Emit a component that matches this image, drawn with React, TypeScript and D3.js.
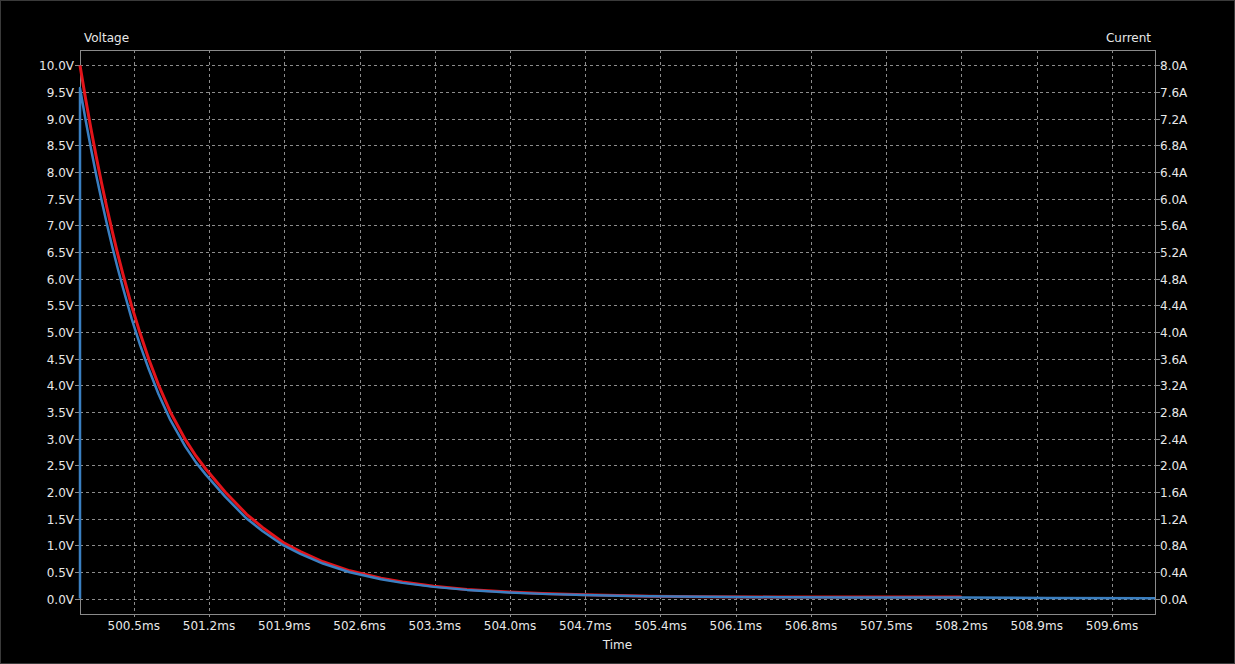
import React from "react";
import * as d3 from "d3";

// time offsets in ms from 500 ms
const redTimes = [0, 0.05, 0.1, 0.15, 0.2, 0.25, 0.3, 0.35, 0.4, 0.48, 0.56, 0.64, 0.73, 0.84, 0.98, 1.08, 1.17, 1.35, 1.55, 1.7, 1.89, 2.05, 2.26, 2.51, 2.8, 3.0, 3.29, 3.6, 3.99, 4.3, 4.69, 5.0, 5.3, 5.8, 6.5, 7.2, 8.2];
const voltage = [10.0, 9.4, 8.83, 8.3, 7.8, 7.33, 6.89, 6.47, 6.08, 5.49, 4.97, 4.49, 4.01, 3.5, 2.98, 2.67, 2.43, 2.0, 1.58, 1.33, 1.05, 0.88, 0.69, 0.52, 0.38, 0.31, 0.23, 0.17, 0.123, 0.094, 0.07, 0.055, 0.045, 0.035, 0.03, 0.028, 0.027];

const blueTimes = [0, 0, 0.05, 0.1, 0.15, 0.2, 0.25, 0.3, 0.35, 0.4, 0.48, 0.56, 0.64, 0.73, 0.84, 0.98, 1.08, 1.17, 1.35, 1.55, 1.7, 1.89, 2.05, 2.26, 2.51, 2.8, 3.0, 3.29, 3.6, 3.99, 4.3, 4.69, 5.0, 5.3, 5.8, 6.5, 7.2, 8.2, 9.0, 10.0];
const current = [0, 7.66, 7.2, 6.77, 6.36, 5.98, 5.62, 5.28, 4.96, 4.66, 4.2, 3.8, 3.44, 3.07, 2.68, 2.28, 2.04, 1.86, 1.53, 1.2, 1.01, 0.8, 0.67, 0.525, 0.395, 0.29, 0.235, 0.175, 0.13, 0.092, 0.07, 0.052, 0.042, 0.034, 0.026, 0.02, 0.017, 0.014, 0.008, 0.006];

const timeTicks = [500.5, 501.2, 501.9, 502.6, 503.3, 504.0, 504.7, 505.4, 506.1, 506.8, 507.5, 508.2, 508.9, 509.6];
const voltTicks = [0, 0.5, 1, 1.5, 2, 2.5, 3, 3.5, 4, 4.5, 5, 5.5, 6, 6.5, 7, 7.5, 8, 8.5, 9, 9.5, 10];
const ampTicks = [0, 0.4, 0.8, 1.2, 1.6, 2.0, 2.4, 2.8, 3.2, 3.6, 4.0, 4.4, 4.8, 5.2, 5.6, 6.0, 6.4, 6.8, 7.2, 7.6, 8.0];

const W = 1235;
const H = 664;
const margin = { top: 50, right: 80, bottom: 50, left: 80 };
const font = "'DejaVu Sans', sans-serif";
const txt = "#e8e8e8";
const axisCol = "#8a8a8a";
const gridCol = "#8c8c8c";

export default function App() {
  const x = d3.scaleLinear().domain([500, 510]).range([margin.left, W - margin.right]);
  const yV = d3.scaleLinear().domain([-0.29, 10.29]).range([H - margin.bottom, margin.top]);
  const yA = d3.scaleLinear().domain([-0.232, 8.232]).range([H - margin.bottom, margin.top]);

  const redLine = d3
    .line<number>()
    .x((_, i) => x(500 + redTimes[i]))
    .y((d) => yV(d));
  const blueLine = d3
    .line<number>()
    .x((_, i) => x(500 + blueTimes[i]))
    .y((d) => yA(d));

  const x0 = margin.left;
  const x1 = W - margin.right;
  const y0 = margin.top;
  const y1 = H - margin.bottom;

  return (
    <svg
      width={W}
      height={H}
      style={{ position: "absolute", left: 0, top: 0, background: "#000" }}
      fontFamily={font}
      fontSize={12}
    >
      <rect x={0.5} y={0.5} width={W - 1} height={H - 1} fill="#000" stroke="#3a3a3a" />

      {/* grid */}
      <g stroke={gridCol} strokeDasharray="3,3" strokeWidth={1}>
        {timeTicks.map((t) => (
          <line key={"gx" + t} x1={Math.round(x(t)) + 0.5} x2={Math.round(x(t)) + 0.5} y1={y0} y2={y1 + 5} />
        ))}
        {voltTicks.map((v) => (
          <line key={"gy" + v} x1={x0} x2={x1} y1={Math.round(yV(v)) + 0.5} y2={Math.round(yV(v)) + 0.5} />
        ))}
      </g>

      {/* frame */}
      <rect x={x0 + 0.5} y={y0 + 0.5} width={x1 - x0} height={y1 - y0} fill="none" stroke={axisCol} />

      {/* left axis */}
      <g>
        {voltTicks.map((v) => (
          <g key={"lv" + v} transform={`translate(0,${Math.round(yV(v)) + 0.5})`}>
            <line x1={x0 - 5} x2={x0} stroke={axisCol} />
            <text x={x0 - 6} dy="0.35em" textAnchor="end" fill={txt}>
              {v.toFixed(1)}V
            </text>
          </g>
        ))}
      </g>

      {/* right axis */}
      <g>
        {ampTicks.map((a) => (
          <g key={"ra" + a} transform={`translate(0,${Math.round(yA(a)) + 0.5})`}>
            <line x1={x1} x2={x1 + 5} stroke={axisCol} />
            <text x={x1 + 5} dy="0.35em" textAnchor="start" fill={txt}>
              {a.toFixed(1)}A
            </text>
          </g>
        ))}
      </g>

      {/* bottom axis labels */}
      {timeTicks.map((t) => (
        <text key={"bt" + t} x={x(t)} y={y1 + 16} textAnchor="middle" fill={txt}>
          {t.toFixed(1)}ms
        </text>
      ))}

      <text x={x0 + 4} y={y0 - 8} fill={txt}>
        Voltage
      </text>
      <text x={x1 - 4} y={y0 - 8} textAnchor="end" fill={txt}>
        Current
      </text>
      <text x={(x0 + x1) / 2} y={H - 15} textAnchor="middle" fill={txt}>
        Time
      </text>

      {/* series */}
      <path d={redLine(voltage) ?? ""} fill="none" stroke="#e3141b" strokeWidth={3} strokeLinejoin="round" />
      <path d={blueLine(current) ?? ""} fill="none" stroke="#3a7fc1" strokeWidth={2.5} strokeLinejoin="round" />
    </svg>
  );
}
